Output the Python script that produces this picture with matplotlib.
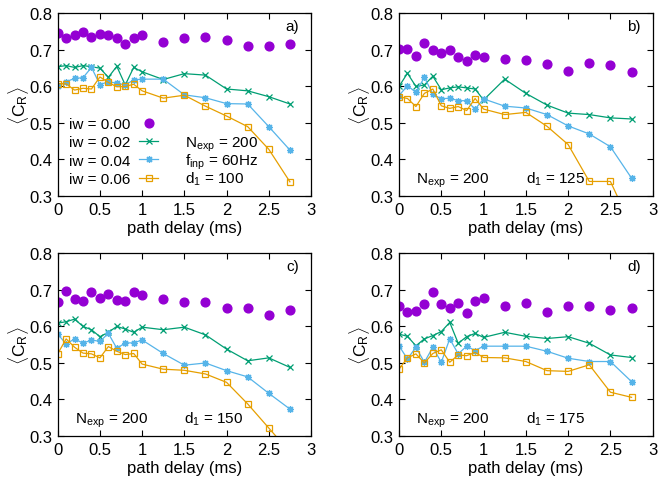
import matplotlib
matplotlib.use('agg')
import matplotlib.pyplot as plt

plt.rcParams['font.family'] = ['Liberation Sans', 'DejaVu Sans']
plt.rcParams['mathtext.fontset'] = 'custom'
plt.rcParams['mathtext.rm'] = 'Liberation Sans'
plt.rcParams['mathtext.it'] = 'Liberation Sans:italic'

# path delay (ms)
delay = [0, 0.1, 0.2, 0.3, 0.4, 0.5, 0.6, 0.7, 0.8, 0.9, 1.0,
         1.25, 1.5, 1.75, 2.0, 2.25, 2.5, 2.75]

iw_labels = ['iw = 0.00', 'iw = 0.02', 'iw = 0.04', 'iw = 0.06']

# panel a) d1 = 100
a_iw00 = [0.745, 0.732, 0.741, 0.747, 0.733, 0.742, 0.740, 0.731, 0.714, 0.731, 0.740,
          0.722, 0.731, 0.733, 0.727, 0.711, 0.709, 0.714]
a_iw02 = [0.653, 0.656, 0.651, 0.656, 0.653, 0.649, 0.624, 0.654, 0.603, 0.651, 0.639,
          0.618, 0.634, 0.630, 0.592, 0.587, 0.571, 0.551]
a_iw04 = [0.600, 0.612, 0.621, 0.623, 0.651, 0.604, 0.612, 0.608, 0.603, 0.617, 0.619,
          0.619, 0.576, 0.568, 0.552, 0.551, 0.489, 0.425]
a_iw06 = [0.607, 0.606, 0.589, 0.594, 0.592, 0.625, 0.610, 0.598, 0.599, 0.605, 0.587,
          0.567, 0.575, 0.545, 0.518, 0.489, 0.427, 0.338]

# panel b) d1 = 125
b_iw00 = [0.701, 0.701, 0.683, 0.717, 0.700, 0.690, 0.699, 0.679, 0.670, 0.686, 0.680,
          0.674, 0.671, 0.660, 0.640, 0.662, 0.658, 0.639]
b_iw02 = [0.599, 0.635, 0.599, 0.603, 0.627, 0.590, 0.595, 0.598, 0.595, 0.592, 0.562,
          0.619, 0.580, 0.548, 0.526, 0.522, 0.513, 0.510]
b_iw04 = [0.574, 0.601, 0.583, 0.624, 0.578, 0.565, 0.567, 0.560, 0.560, 0.537, 0.565,
          0.545, 0.540, 0.522, 0.491, 0.469, 0.434, 0.348]
b_iw06 = [0.571, 0.566, 0.544, 0.580, 0.592, 0.546, 0.539, 0.544, 0.533, 0.566, 0.537,
          0.522, 0.528, 0.490, 0.440, 0.339, 0.339, 0.215]

# panel c) d1 = 150
c_iw00 = [0.665, 0.697, 0.674, 0.670, 0.692, 0.677, 0.688, 0.671, 0.668, 0.692, 0.686,
          0.674, 0.665, 0.667, 0.649, 0.650, 0.630, 0.644]
c_iw02 = [0.608, 0.612, 0.619, 0.599, 0.590, 0.571, 0.583, 0.599, 0.592, 0.583, 0.597,
          0.590, 0.597, 0.576, 0.537, 0.505, 0.513, 0.487]
c_iw04 = [0.578, 0.551, 0.565, 0.553, 0.562, 0.558, 0.580, 0.539, 0.554, 0.554, 0.562,
          0.525, 0.493, 0.499, 0.478, 0.461, 0.416, 0.373]
c_iw06 = [0.524, 0.565, 0.542, 0.526, 0.524, 0.513, 0.544, 0.531, 0.522, 0.525, 0.496,
          0.482, 0.479, 0.469, 0.446, 0.387, 0.321, 0.255]

# panel d) d1 = 175
d_iw00 = [0.656, 0.639, 0.642, 0.660, 0.692, 0.660, 0.649, 0.662, 0.636, 0.670, 0.676,
          0.654, 0.663, 0.639, 0.654, 0.654, 0.645, 0.649]
d_iw02 = [0.578, 0.572, 0.546, 0.565, 0.574, 0.585, 0.610, 0.553, 0.571, 0.580, 0.569,
          0.583, 0.572, 0.566, 0.571, 0.553, 0.521, 0.514]
d_iw04 = [0.546, 0.510, 0.542, 0.501, 0.542, 0.501, 0.565, 0.524, 0.545, 0.533, 0.545,
          0.545, 0.545, 0.531, 0.512, 0.503, 0.503, 0.448]
d_iw06 = [0.482, 0.513, 0.524, 0.499, 0.525, 0.535, 0.501, 0.521, 0.519, 0.528, 0.514,
          0.513, 0.503, 0.478, 0.476, 0.494, 0.419, 0.405]

panels = [
    ('a)', [a_iw00, a_iw02, a_iw04, a_iw06], '100'),
    ('b)', [b_iw00, b_iw02, b_iw04, b_iw06], '125'),
    ('c)', [c_iw00, c_iw02, c_iw04, c_iw06], '150'),
    ('d)', [d_iw00, d_iw02, d_iw04, d_iw06], '175'),
]

colors = ['#9400d3', '#009e73', '#56b4e9', '#e69f00']

# position des axes en pixels (gauche, haut, largeur, hauteur)
W, H = 662., 485.
boxes = [
    (57.7, 14, 253.3, 182.7),
    (399.0, 14, 253.7, 182.7),
    (57.7, 254, 253.3, 182.7),
    (399.0, 254, 253.7, 182.7),
]

fs_tick = 12
fs_key = 11

fig = plt.figure(figsize=(6.62, 4.85), dpi=100)

for (tag, series, d1), (x0, y0, w, h) in zip(panels, boxes):
    ax = fig.add_axes([x0 / W, 1 - (y0 + h) / H, w / W, h / H])
    s0, s1, s2, s3 = series
    ax.plot(delay, s0, 'o', color=colors[0], ms=6.3, mec=colors[0], label=iw_labels[0])
    ax.plot(delay, s1, '-', marker='x', color=colors[1], lw=0.9, ms=4.5, mew=0.9,
            label=iw_labels[1])
    ax.plot(delay, s2, '-', marker=(8, 2, 0), color=colors[2], lw=0.9, ms=5, mew=0.9,
            label=iw_labels[2])
    ax.plot(delay, s3, '-', marker='s', color=colors[3], lw=0.9, ms=5, mew=0.9,
            mfc='none', label=iw_labels[3])

    ax.set_xlim(0, 3)
    ax.set_ylim(0.3, 0.8)
    ax.set_xticks([0, 0.5, 1, 1.5, 2, 2.5, 3])
    ax.set_xticklabels(['0', '0.5', '1', '1.5', '2', '2.5', '3'])
    ax.set_yticks([0.3, 0.4, 0.5, 0.6, 0.7, 0.8])
    ax.tick_params(direction='in', length=4, width=0.8, top=True, right=True,
                   labelsize=fs_tick)
    ax.tick_params(axis='x', pad=4.5)
    ax.tick_params(axis='y', pad=4)
    for sp in ax.spines.values():
        sp.set_linewidth(0.9)
    ax.set_xlabel('path delay (ms)', fontsize=fs_tick, labelpad=2.5)
    ax.set_ylabel(r'$\langle\mathrm{C}_\mathrm{R}\rangle$', fontsize=12.5, labelpad=-1)
    ax.text(0.953, 0.929, tag, transform=ax.transAxes, ha='right', va='center',
            fontsize=fs_key)

    if tag == 'a)':
        ax.legend(loc='upper left', bbox_to_anchor=(0.046, 0.43), frameon=False,
                  markerfirst=False, fontsize=fs_key, handlelength=1.25,
                  labelspacing=0.28, handletextpad=0.55, borderpad=0,
                  borderaxespad=0, numpoints=1)
        ax.text(0.503, 0.269, r'N$_\mathrm{exp}$ = 200', transform=ax.transAxes,
                va='baseline', fontsize=fs_key)
        ax.text(0.503, 0.170, r'f$_\mathrm{inp}$ = 60Hz', transform=ax.transAxes,
                va='baseline', fontsize=fs_key)
        ax.text(0.503, 0.070, r'd$_1$ = 100', transform=ax.transAxes,
                va='baseline', fontsize=fs_key)
    else:
        ax.text(0.067, 0.07, r'N$_\mathrm{exp}$ = 200', transform=ax.transAxes,
                va='baseline', fontsize=fs_key)
        ax.text(0.50, 0.07, r'd$_1$ = ' + d1, transform=ax.transAxes,
                va='baseline', fontsize=fs_key)

fig.savefig('out.png', dpi=100)
